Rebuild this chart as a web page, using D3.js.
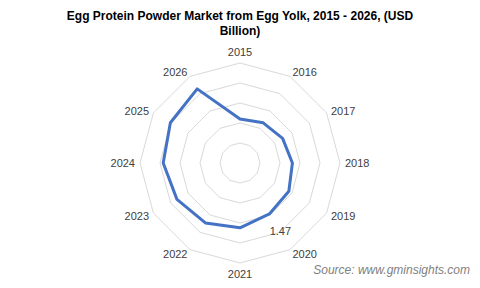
<!DOCTYPE html>
<html>
<head>
<meta charset="utf-8">
<script src="https://cdn.jsdelivr.net/npm/d3@7"></script>
<style>
  body { margin: 0; background: #fff; }
  text { font-family: "Liberation Sans", Arial, sans-serif; }
</style>
</head>
<body>
<div id="chart"></div>
<script>
let years = ["2015", "2016", "2017", "2018", "2019", "2020", "2021", "2022", "2023", "2024", "2025", "2026"]
let values = [1.10, 1.16, 1.23, 1.31, 1.41, 1.47, 1.62, 1.73, 1.82, 1.92, 2.01, 2.14]
let ringVals = [0.5, 1, 1.5, 2, 2.5]

let width = 480, height = 288
let cx = 240, cy = 163, radius = 100

let svg = d3.select("#chart").append("svg")
    .attr("width", width)
    .attr("height", height)

// title
let title = svg.append("text")
    .attr("text-anchor", "middle")
    .attr("font-size", 12)
    .attr("font-weight", "bold")
    .attr("fill", "#000")
title.append("tspan").attr("x", 240).attr("y", 20)
    .text("Egg  Protein Powder Market from Egg  Yolk,  2015 - 2026, (USD")
title.append("tspan").attr("x", 240).attr("y", 35).text("Billion)")

let r = d3.scaleLinear().domain([0, 2.5]).range([0, radius])
let ang = d3.scaleBand().domain(years).range([0, 2 * Math.PI]).paddingInner(0).paddingOuter(0)
let angle = d => ang(d)

let g = svg.append("g").attr("transform", "translate(" + cx + "," + cy + ")")

// rings
let ringLine = d3.lineRadial().curve(d3.curveLinearClosed)
g.selectAll(".ring")
    .data(ringVals)
    .enter()
    .append("path")
    .attr("d", v => ringLine(years.map(y => [angle(y), r(v)])))
    .attr("fill", "none")
    .attr("stroke", "#d9d9d9")
    .attr("stroke-width", 1)

// category labels, placed at the outer vertex like Excel does
g.selectAll(".cat")
    .data(years)
    .enter()
    .append("text")
    .attr("x", function (y) {
        let s = Math.sin(angle(y))
        return s * radius + s * 5
    })
    .attr("y", function (y) {
        let c = Math.cos(angle(y))
        let off = Math.abs(c) > 0.95 ? 11 : 5
        return -c * radius - c * off + 4
    })
    .attr("text-anchor", function (y) {
        let s = Math.sin(angle(y))
        return s > 0.1 ? "start" : (s < -0.1 ? "end" : "middle")
    })
    .attr("font-size", 11)
    .attr("fill", "#404040")
    .text(y => y)

// series
let line = d3.lineRadial()
    .angle((d, i) => angle(years[i]))
    .radius(d => r(d))
    .curve(d3.curveLinearClosed)
g.append("path")
    .attr("d", line(values))
    .attr("fill", "none")
    .attr("stroke", "#4472c4")
    .attr("stroke-width", 3)
    .attr("stroke-linejoin", "round")

// data label for 2020
let i20 = years.indexOf("2020")
g.append("text")
    .attr("x", Math.sin(angle(years[i20])) * r(values[i20]) + 11)
    .attr("y", -Math.cos(angle(years[i20])) * r(values[i20]) + 21)
    .attr("text-anchor", "middle")
    .attr("font-size", 11)
    .attr("fill", "#404040")
    .text(values[i20].toFixed(2))

// source
svg.append("text")
    .attr("x", 470)
    .attr("y", 274)
    .attr("text-anchor", "end")
    .attr("font-size", 12)
    .attr("font-style", "italic")
    .attr("fill", "#7f7f7f")
    .text("Source: www.gminsights.com")
</script>
</body>
</html>
